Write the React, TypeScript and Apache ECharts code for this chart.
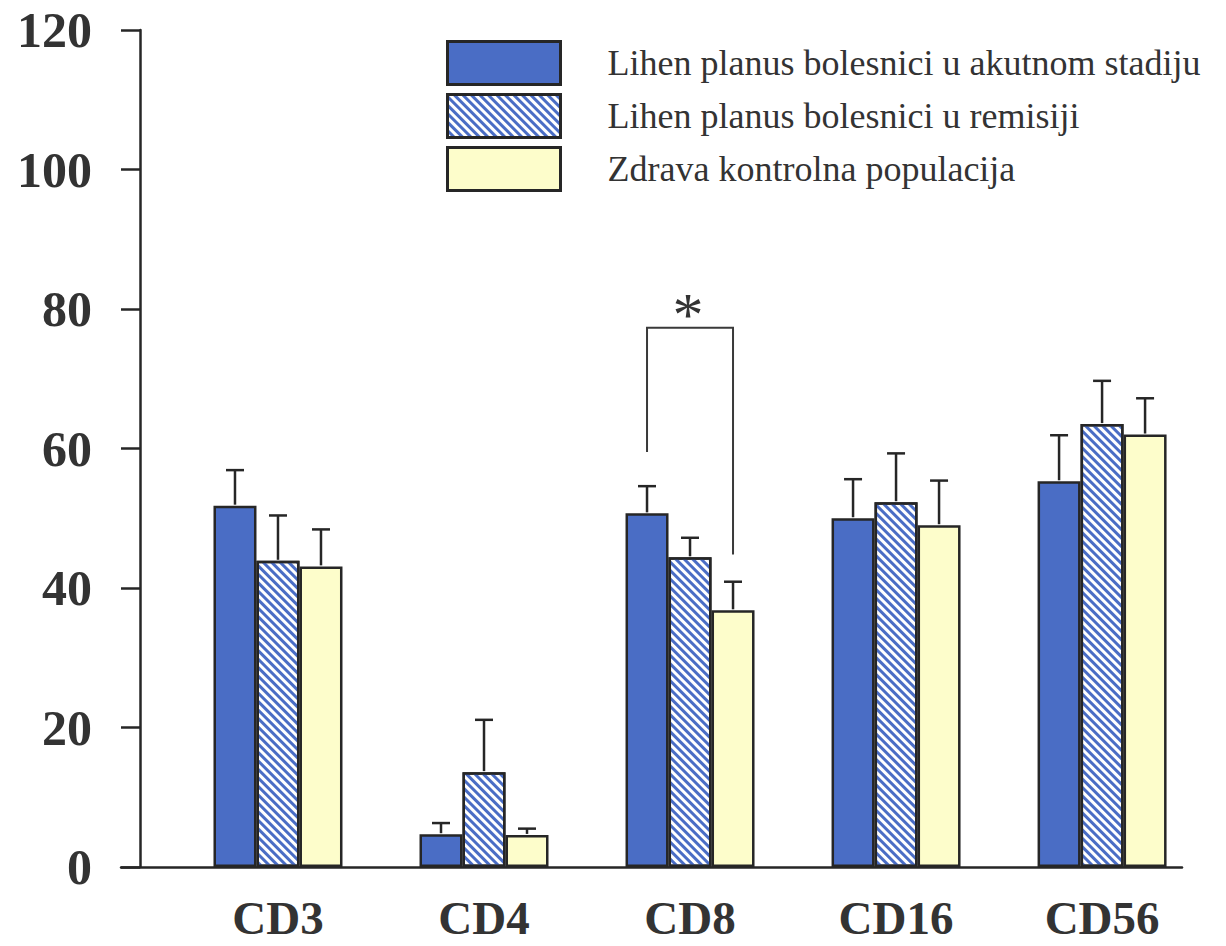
import React, { useEffect, useRef } from "react";
import * as echarts from "echarts";

const categories = ["CD3", "CD4", "CD8", "CD16", "CD56"];
const seriesNames = [
  "Lihen planus bolesnici u akutnom stadiju",
  "Lihen planus bolesnici u remisiji",
  "Zdrava kontrolna populacija",
];
const acuteMean = [51.8, 4.7, 50.7, 50.0, 55.3];
const acuteSD = [5.1, 1.6, 3.9, 5.6, 6.6];
const remissionMean = [43.9, 13.6, 44.4, 52.3, 63.5];
const remissionSD = [6.5, 7.5, 2.8, 7.0, 6.2];
const controlMean = [43.1, 4.6, 36.8, 49.0, 62.0];
const controlSD = [5.3, 0.9, 4.1, 6.4, 5.2];
const yTickValues = [0, 20, 40, 60, 80, 100, 120];
// significance bracket: category index, [left leg bottom, top, right leg bottom]
const sigCategory = [2];
const sigBracketY = [59.5, 77.3, 44.8];
const sigLabel = ["*"];

const FONT = "'Liberation Serif', 'Times New Roman', serif";
const BLUE = "#4a6dc5";
const YELLOW = "#fdfdcb";
const INK = "#262626";
const BAR_W = 43;

export default function App() {
  const ref = useRef<HTMLDivElement>(null);
  useEffect(() => {
    const chart = echarts.init(ref.current!, null, { renderer: "svg" });
    const means = [acuteMean, remissionMean, controlMean];
    const sds = [acuteSD, remissionSD, controlSD];
    const styles = [
      { color: BLUE, borderColor: INK, borderWidth: 2.5 },
      {
        color: "#ffffff",
        borderColor: INK,
        borderWidth: 2.5,
        decal: {
          symbol: "rect",
          symbolSize: 1,
          color: BLUE,
          dashArrayX: [1, 0],
          dashArrayY: [3, 3],
          rotation: Math.PI / 4,
        },
      },
      { color: YELLOW, borderColor: INK, borderWidth: 2.5 },
    ];
    const barSeries = seriesNames.map((name, g) => ({
      type: "bar",
      name,
      barWidth: BAR_W,
      barGap: "0%",
      itemStyle: styles[g],
      data: categories.map((_, i) => [i, means[g][i]]),
      z: 2,
    }));
    const errSeries = seriesNames.map((name, g) => ({
      type: "custom",
      name: name + " SD",
      z: 3,
      encode: { x: 0, y: [1, 2] },
      data: categories.map((_, i) => [i, means[g][i], means[g][i] + sds[g][i]]),
      renderItem: (params: any, api: any) => {
        const x = api.value(0);
        const p1 = api.coord([x, api.value(1)]);
        const p2 = api.coord([x, api.value(2)]);
        const cx = p1[0] + (g - 1) * BAR_W;
        const st = { stroke: INK, lineWidth: 2.5 };
        return {
          type: "group",
          children: [
            { type: "line", shape: { x1: cx, y1: p1[1] - 1, x2: cx, y2: p2[1] }, style: st },
            { type: "line", shape: { x1: cx - 9, y1: p2[1], x2: cx + 9, y2: p2[1] }, style: st },
          ],
        };
      },
    }));
    const sigSeries = {
      type: "custom",
      name: "sig",
      z: 3,
      encode: { x: 0, y: [1, 2, 3] },
      data: sigCategory.map((c) => [c, sigBracketY[0], sigBracketY[1], sigBracketY[2]]),
      renderItem: (params: any, api: any) => {
        const x = api.value(0);
        const pl = api.coord([x, api.value(1)]);
        const pt = api.coord([x, api.value(2)]);
        const pr = api.coord([x, api.value(3)]);
        const lx = pl[0] - BAR_W;
        const rx = pl[0] + BAR_W;
        return {
          type: "group",
          children: [
            {
              type: "polyline",
              shape: { points: [[lx, pl[1]], [lx, pt[1]], [rx, pt[1]], [rx, pr[1]]] },
              style: { stroke: "#3a3a3a", lineWidth: 2, fill: "none" },
            },
            {
              type: "text",
              x: (lx + rx) / 2 - 2,
              y: pt[1] - 14,
              style: {
                text: sigLabel[0],
                fontFamily: FONT,
                fontSize: 62,
                fill: "#333",
                align: "center",
                verticalAlign: "middle",
              },
            },
          ],
        };
      },
    };
    chart.setOption({
      animation: false,
      backgroundColor: "#ffffff",
      grid: { left: 121, right: 44, top: 30, bottom: 79, containLabel: false, outerBoundsMode: "none" },
      legend: {
        data: seriesNames,
        orient: "vertical",
        left: 446,
        top: 40,
        padding: 0,
        itemWidth: 113,
        itemHeight: 43,
        itemGap: 7,
        icon: "rect",
        selectedMode: false,
        itemStyle: { borderWidth: 3 },
        textStyle: {
          fontFamily: FONT,
          fontSize: 36,
          color: "#333",
          padding: [22, 0, 0, 42],
        },
      },
      xAxis: {
        type: "value",
        min: -0.762,
        max: 4.388,
        splitLine: { show: false },
        axisTick: { show: false },
        axisLine: { onZero: false, lineStyle: { color: INK, width: 2.5 } },
        axisLabel: {
          customValues: categories.map((_, i) => i),
          formatter: (v: number) => categories[Math.round(v)] ?? "",
          fontFamily: FONT,
          fontSize: 47,
          fontWeight: "bold",
          color: "#333",
          margin: 27,
          showMinLabel: true,
          showMaxLabel: true,
        },
      },
      yAxis: {
        type: "value",
        min: yTickValues[0],
        max: yTickValues[yTickValues.length - 1],
        interval: yTickValues[1] - yTickValues[0],
        offset: -19,
        splitLine: { show: false },
        axisLine: { show: true, onZero: false, lineStyle: { color: INK, width: 2.5 } },
        axisTick: { show: true, length: 19, lineStyle: { color: INK, width: 2.5 } },
        axisLabel: {
          fontFamily: FONT,
          fontSize: 50,
          fontWeight: "bold",
          color: "#333",
          margin: 48,
        },
      },
      series: [...barSeries, ...errSeries, sigSeries],
    });
    return () => chart.dispose();
  }, []);
  return (
    <div
      ref={ref}
      style={{ position: "absolute", left: 0, top: 0, width: 1226, height: 946, background: "#fff" }}
    />
  );
}
